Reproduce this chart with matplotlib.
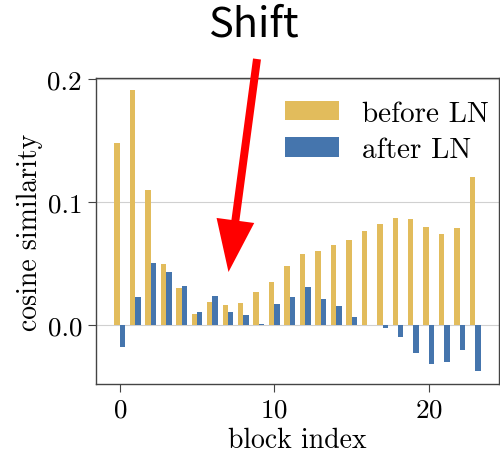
import numpy as np
import matplotlib.pyplot as plt
from matplotlib.patches import FancyArrow
from matplotlib.transforms import IdentityTransform

plt.rcParams['font.family'] = 'cmr10'
plt.rcParams['mathtext.fontset'] = 'cm'
plt.rcParams['axes.formatter.use_mathtext'] = True

blocks = np.arange(24)
before_ln = [0.148, 0.191, 0.110, 0.0495, 0.030, 0.0087, 0.0185, 0.0163,
             0.0179, 0.0264, 0.0345, 0.048, 0.0577, 0.0604, 0.0645, 0.069,
             0.0761, 0.0823, 0.0869, 0.0864, 0.0793, 0.0739, 0.0785, 0.120]
after_ln = [-0.0184, 0.0228, 0.0505, 0.0427, 0.0315, 0.0103, 0.0231, 0.0106,
            0.0077, 0.0005, 0.0166, 0.0222, 0.0305, 0.0212, 0.0150, 0.0060,
            0.0, -0.0024, -0.0103, -0.0228, -0.032, -0.0307, -0.0204, -0.0375]

yellow = '#E2BC5C'
blue = '#4575AD'

fig = plt.figure(figsize=(5, 4.56), dpi=100)
ax = fig.add_axes([0.192, 0.155, 0.806, 0.672])

w = 0.35
ax.bar(blocks - w / 2, before_ln, width=w, color=yellow, label='before LN', zorder=2)
ax.bar(blocks + w / 2, after_ln, width=w, color=blue, label='after LN', zorder=2)

ax.set_ylim(-0.0486, 0.201)
ax.set_yticks([0.0, 0.1, 0.2])
ax.set_yticklabels(['0.0', '0.1', '0.2'])
ax.set_xticks([0, 10, 20])
ax.yaxis.grid(True, color='#d0d0d0', lw=0.8, zorder=0)
ax.tick_params(labelsize=19.5, length=6, color='#444444', pad=4)
for s in ax.spines.values():
    s.set_color('#444444')
    s.set_linewidth(1.0)

ax.set_xlabel('block index', fontsize=20, labelpad=3.5)
ax.set_ylabel('cosine similarity', fontsize=20, labelpad=3)

ax.legend(loc='upper right', frameon=False, fontsize=21, handlelength=1.85,
          handleheight=0.65, handletextpad=0.8, labelspacing=0.35,
          bbox_to_anchor=(1.04, 1.012))

# red arrow and label (pixel coordinates)
fig.text(0.506, 1 - 25 / 456, 'Shift', fontsize=30, ha='center', va='center',
         family='Noto Sans CJK JP')
arrow = FancyArrow(257, 456 - 60, -28.5, -(273 - 60), width=8, head_width=38,
                   head_length=52, length_includes_head=True, color='red',
                   lw=0, transform=IdentityTransform())
fig.add_artist(arrow)

fig.savefig('out.png', dpi=100)
